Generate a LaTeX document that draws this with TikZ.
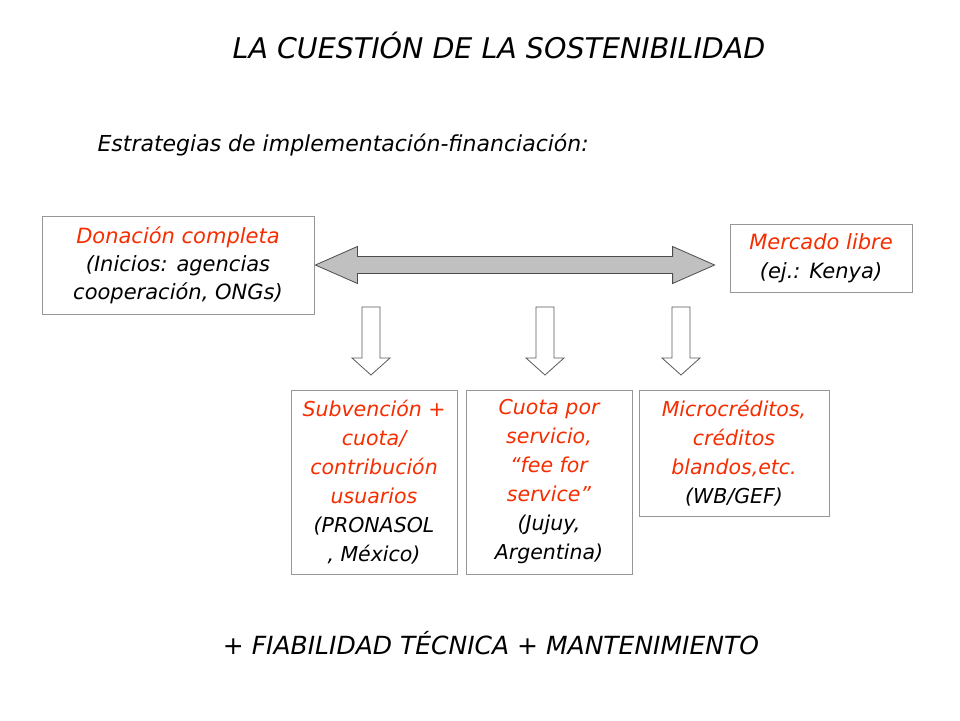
\documentclass[tikz,border=0pt]{standalone}
\usepackage{fontspec}
\setmainfont{DejaVu Sans}
\usetikzlibrary{calc}

\definecolor{rojo}{RGB}{245,45,0}
\definecolor{marco}{RGB}{150,150,150}
\definecolor{relleno}{RGB}{192,192,192}

\newcommand{\rj}[1]{\textcolor{rojo}{#1}}
\newcommand{\flechabaja}{%
    \draw[black!65, line width=0.8pt, fill=white] (-9,0) -- (9,0) -- (9,51) -- (19,51) -- (0,68) -- (-19,51) -- (-9,51) -- cycle;
}

\tikzset{
    texto/.style = {font=\fontsize{20}{28}\selectfont\itshape, align=center},
    caja/.style = {texto, draw=marco, line width=0.8pt, inner sep=0pt},
    cajaalta/.style = {caja, font=\fontsize{20.5}{29}\selectfont\itshape},
    flecha/.style = {draw=black!70, fill=relleno, line width=0.8pt}
}

\begin{document}
\begin{tikzpicture}[x=1pt, y=-1pt]
            \useasboundingbox (0,0) rectangle (960,720);

            % Titles
            \node[texto, font=\fontsize{28.5}{32}\selectfont\itshape] (titulo) at (499,45) {LA CUESTIÓN DE LA SOSTENIBILIDAD};
            \node[texto, anchor=west, font=\fontsize{22}{28}\selectfont\itshape] (estrategias) at (94,145) {Estrategias de implementación-financiación:};

            % The two ends
            \node[caja, minimum width=272, minimum height=98, font=\fontsize{21}{28}\selectfont\itshape] (donacion) at (178,265)
                {\rj{Donación completa}\\(Inicios: agencias\\cooperación, ONGs)};
            \node[caja, minimum width=182, minimum height=68, font=\fontsize{21}{29}\selectfont\itshape] (mercado) at (821,258)
                {\rj{Mercado libre}\\(ej.: Kenya)};

            % Double arrow between them
            \coordinate (izq) at ([xshift=1]donacion.east);
            \coordinate (der) at ([xshift=-15]mercado.west |- izq);
            \draw[flecha] (izq) -- ++(42,-18.5) -- ++(0,10) -- ($(der)+(-42,-8.5)$) -- ++(0,-10) -- (der)
                -- ++(-42,18.5) -- ++(0,-10) -- ($(izq)+(42,8.5)$) -- ++(0,10) -- cycle;

            % Intermediate strategies
            \node[cajaalta, minimum width=166, minimum height=184] (subvencion) at (374,482)
                {\rj{Subvención +}\\\rj{cuota/}\\\rj{contribución}\\\rj{usuarios}\\(PRONASOL\\, México)};
            \node[cajaalta, minimum width=166, minimum height=184] (cuota) at (549,482)
                {\rj{Cuota por}\\\rj{servicio,}\\\rj{“fee for}\\\rj{service”}\\(Jujuy,\\Argentina)};
            \node[cajaalta, minimum width=190, minimum height=126] (micro) at (734,453)
                {\rj{Microcréditos,}\\\rj{créditos}\\\rj{blandos,etc.}\\(WB/GEF)};

            % Hollow arrows pointing down
            \foreach \x in {371,545,681} {
            \begin{scope}[shift={(\x,307)}]
                \flechabaja
            \end{scope}
            }

            \node[texto, font=\fontsize{25}{30}\selectfont\itshape] (pie) at (491,643) {+ FIABILIDAD TÉCNICA + MANTENIMIENTO};
        \end{tikzpicture}
\end{document}
